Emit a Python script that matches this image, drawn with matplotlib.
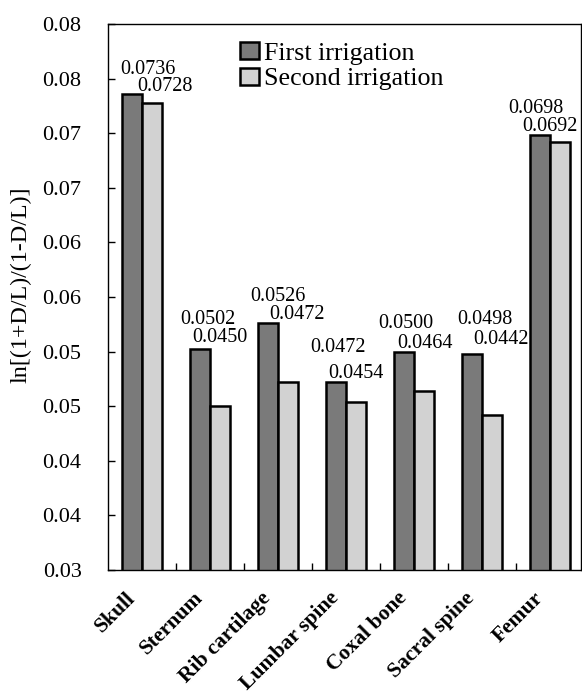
import matplotlib
matplotlib.use("Agg")
from matplotlib import pyplot as plt
import matplotlib.transforms as mtransforms
import numpy as np

plt.rcParams['font.family'] = ['Liberation Serif', 'DejaVu Serif']

sites = ["Skull", "Sternum", "Rib cartilage", "Lumbar spine",
         "Coxal bone", "Sacral spine", "Femur"]
first = [0.0736, 0.0502, 0.0526, 0.0472, 0.0500, 0.0498, 0.0698]
second = [0.0728, 0.0450, 0.0472, 0.0454, 0.0464, 0.0442, 0.0692]
yticks = [0.030, 0.035, 0.040, 0.045, 0.050, 0.055, 0.060, 0.065, 0.070, 0.075, 0.080]
ytick_labels = ["0.03", "0.04", "0.04", "0.05", "0.05", "0.06",
                "0.06", "0.07", "0.07", "0.08", "0.08"]

# hand placed value labels in the original (pixel offsets from the first bar top)
lab1_dx = [6, -2, 0, -8, -8, 3, -14]
lab1_dy = [20, 25, 22, 30, 24, 30, 22]
lab2_dx = [23, 10, 19, 10, 11, 19, 0]
lab2_dy = [3, 7, 4, 4, 4, 10, 4]

fig = plt.figure(figsize=(5.82, 6.98), dpi=100)
ax = fig.add_axes([108/582, 128/698, 473/582, 546/698])

x = np.arange(len(sites))
w = 0.295
ax.bar(x - w/2, first, w, color='#7a7a7a', edgecolor='black', linewidth=1.8,
       label='First irrigation')
ax.bar(x + w/2, second, w, color='#d2d2d2', edgecolor='black', linewidth=1.8,
       label='Second irrigation')

for i in range(len(sites)):
    ax.annotate("%.4f" % first[i], (x[i], first[i]), xytext=(lab1_dx[i], lab1_dy[i]),
                textcoords='offset pixels', ha='center', va='baseline', fontsize=14.5)
    ax.annotate("%.4f" % second[i], (x[i], first[i]), xytext=(lab2_dx[i], lab2_dy[i]),
                textcoords='offset pixels', ha='center', va='baseline', fontsize=14.5)

ax.set_ylim(0.03, 0.08)
ax.set_xlim(-0.5, 6.46)
ax.set_yticks(yticks)
ax.set_yticklabels(ytick_labels, fontsize=16)
ax.tick_params(axis='y', direction='in', length=5, width=1, pad=19)

ax.set_xticks(x)
ax.set_xticklabels(sites, rotation=45, ha='right', va='top', rotation_mode='anchor',
                   fontsize=15.6, fontweight='bold')
ax.tick_params(axis='x', which='major', length=0, pad=13)
shift = mtransforms.ScaledTranslation(-0.17, 0, fig.dpi_scale_trans)
for lbl in ax.get_xticklabels():
    lbl.set_transform(lbl.get_transform() + shift)
ax.set_xticks(x[:-1] + 0.5, minor=True)
ax.tick_params(axis='x', which='minor', direction='in', length=5, width=1)

ax.set_ylabel("ln[(1+D/L)/(1-D/L)]", fontsize=17.3)
ax.yaxis.set_label_coords(-76/473, 0.522)

for s in ax.spines.values():
    s.set_linewidth(1.0)

ax.legend(loc='upper left', bbox_to_anchor=(240/582, 1 - 42/698),
          bbox_transform=fig.transFigure, frameon=False, fontsize=18.7,
          borderpad=0, borderaxespad=0, handlelength=0.72, handleheight=0.62,
          handletextpad=0.22, labelspacing=0.12)

fig.savefig("out.png", dpi=100)
